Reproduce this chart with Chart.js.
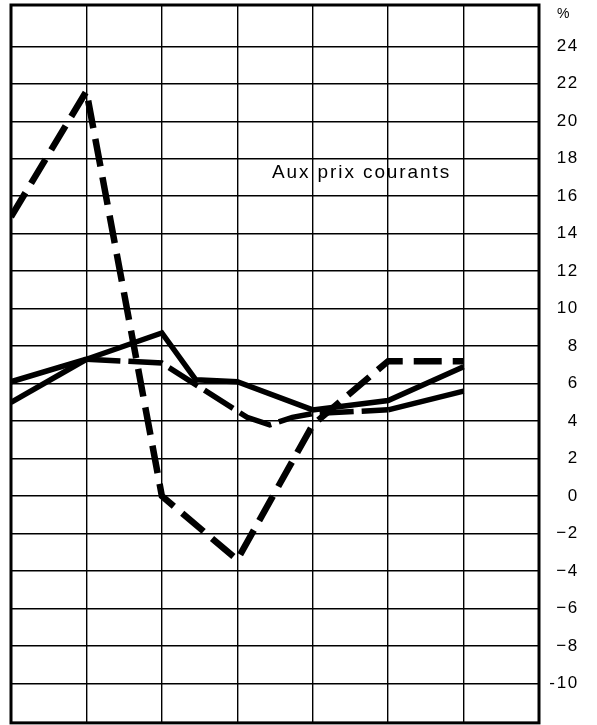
<!DOCTYPE html>
<html>
<head>
<meta charset="utf-8">
<script src="https://cdn.jsdelivr.net/npm/chart.js@4.4.1/dist/chart.umd.min.js"></script>
<style>
html,body{margin:0;padding:0;background:#fff;}
#wrap{width:597px;height:725px;}
</style>
</head>
<body>
<div id="wrap"><canvas id="c" width="597" height="725"></canvas></div>
<script>
// ---- data ----
const xSolid = [0, 1, 2, 2.45, 3, 4, 5, 6];
const valSolid = [6.1, 7.3, 8.7, 6.2, 6.1, 4.6, 5.1, 6.9];

const xLongDash = [0, 1, 2, 3.13, 3.43, 3.73, 4, 5, 6];
const valLongDash = [5.0, 7.3, 7.1, 4.2, 3.8, 4.2, 4.4, 4.6, 5.6];

const xCurrent = [0, 1, 2, 3, 4, 5, 6];
const valCurrent = [14.9, 21.6, 0, -3.4, 3.8, 7.2, 7.2];

const yTickValues = [24, 22, 20, 18, 16, 14, 12, 10, 8, 6, 4, 2, 0, -2, -4, -6, -8, -10];
const yTickLabels = ['24', '22', '20', '18', '16', '14', '12', '10', '8', '6', '4', '2', '0', '\u22122', '\u22124', '\u22126', '\u22128', '-10'];
const unitLabel = '%';
const annotationText = 'Aux prix courants';

const toPoints = (xs, ys) => xs.map((x, i) => ({x: x, y: ys[i]}));

const lastLD = xLongDash.length - 1;

const framePlugin = {
  id: 'frameAndText',
  beforeDraw(chart) {
    chart.ctx.letterSpacing = '1.7px';
  },
  afterDraw(chart) {
    const {ctx, chartArea: a, scales} = chart;
    ctx.save();
    ctx.letterSpacing = '0px';
    ctx.strokeStyle = '#000';
    ctx.lineWidth = 3;
    ctx.strokeRect(a.left, a.top, a.right - a.left, a.bottom - a.top);
    // annotation
    ctx.fillStyle = '#000';
    ctx.font = '19px "Liberation Sans", Arial, sans-serif';
    ctx.letterSpacing = '1.9px';
    ctx.textAlign = 'left';
    ctx.textBaseline = 'alphabetic';
    ctx.fillText(annotationText, scales.x.getPixelForValue(3.46), scales.y.getPixelForValue(16.95));
    // unit
    ctx.font = '14px "Liberation Sans", Arial, sans-serif';
    ctx.letterSpacing = '0px';
    ctx.fillText(unitLabel, a.right + 18, a.top + 13);
    ctx.restore();
    ctx.letterSpacing = '0px';
  }
};

new Chart(document.getElementById('c'), {
  type: 'line',
  data: {
    datasets: [
      {
        data: toPoints(xCurrent, valCurrent),
        borderColor: '#000',
        borderWidth: 6.5,
        borderDash: [28, 11],
        pointRadius: 0,
        tension: 0,
        borderJoinStyle: 'miter',
        fill: false
      },
      {
        data: toPoints(xSolid, valSolid),
        borderColor: '#000',
        borderWidth: 5.5,
        pointRadius: 0,
        tension: 0,
        borderJoinStyle: 'miter',
        fill: false
      },
      {
        data: toPoints(xLongDash, valLongDash),
        borderColor: '#000',
        borderWidth: 5.5,
        pointRadius: 0,
        tension: 0,
        borderJoinStyle: 'miter',
        fill: false,
        segment: {
          borderDash: ctx => (ctx.p0DataIndex === 0 || ctx.p0DataIndex === lastLD - 1) ? [] : [34, 8]
        }
      }
    ]
  },
  options: {
    responsive: false,
    animation: false,
    devicePixelRatio: 1,
    layout: {padding: {left: 11, top: 5, right: 18, bottom: 2}},
    plugins: {legend: {display: false}, tooltip: {enabled: false}, title: {display: false}},
    scales: {
      x: {
        type: 'linear',
        min: 0,
        max: 7,
        ticks: {stepSize: 1, display: false},
        grid: {color: '#000', lineWidth: 1.4, drawTicks: false},
        border: {display: false}
      },
      y: {
        type: 'linear',
        position: 'right',
        min: -12.1,
        max: 26.2,
        ticks: {
          stepSize: 2,
          includeBounds: false,
          crossAlign: 'far',
          padding: 0,
          color: '#000',
          font: {family: '"Liberation Sans", Arial, sans-serif', size: 17, lineHeight: 0.25},
          callback: v => {
            const i = yTickValues.indexOf(v);
            return i >= 0 ? yTickLabels[i] : '';
          }
        },
        afterBuildTicks: s => { s.ticks = s.ticks.filter(t => yTickValues.indexOf(t.value) >= 0); },
        afterFit: s => { s.width = 40; },
        grid: {color: '#000', lineWidth: 1.4, drawTicks: true, tickLength: 18, tickColor: 'rgba(0,0,0,0)'},
        border: {display: false}
      }
    }
  },
  plugins: [framePlugin]
});
</script>
</body>
</html>
